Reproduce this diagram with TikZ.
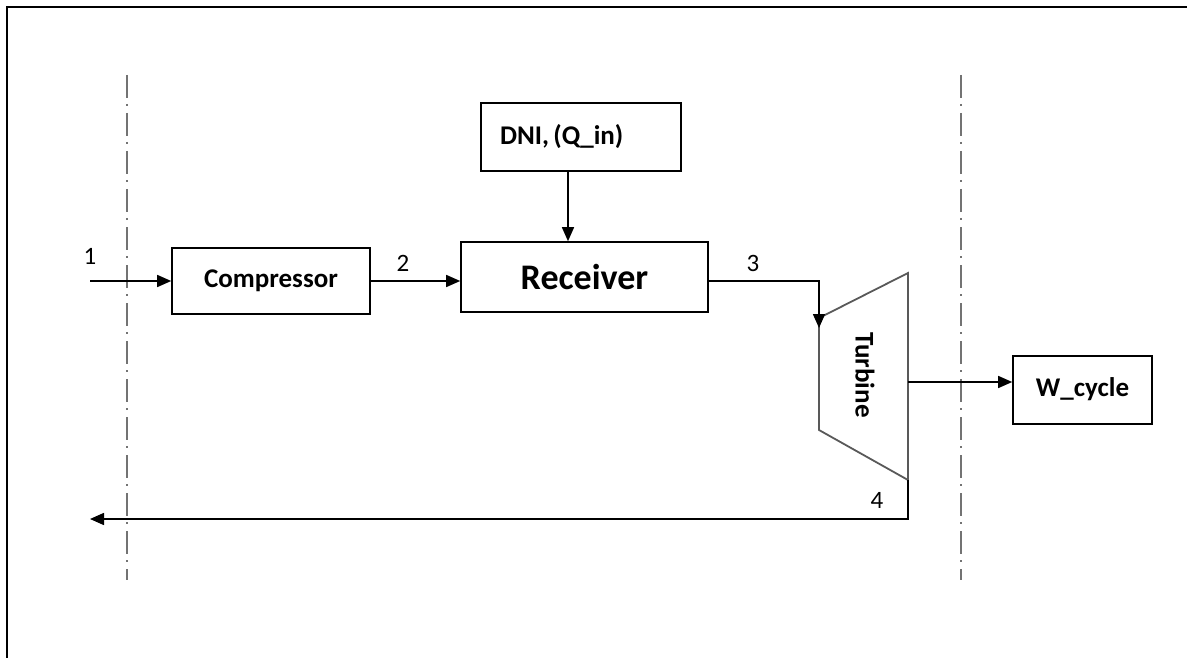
\documentclass[tikz,border=0pt]{standalone}
\usepackage{fontspec}
\setmainfont{Carlito}
\usepackage{tikz}
\usetikzlibrary{arrows.meta}

\begin{document}
\begin{tikzpicture}[
			x=1pt, y=-1pt,
			line cap=butt,
			line join=miter,
			blk/.style={draw, line width=1.6pt, inner sep=0pt, anchor=center,
				font=\bfseries\fontsize{27}{32}\selectfont},
			num/.style={font=\fontsize{25}{28}\selectfont, inner sep=0pt},
			arr/.style={line width=1.5pt, -{Triangle[length=14pt,width=12pt]}},
			bound/.style={draw=black!55, line width=2.6pt,
				dash pattern=on 23pt off 6pt on 2pt off 7pt}
			]
			\useasboundingbox (0,0) rectangle (1187,658);
			% outer frame
			\draw[line width=2pt] (6.5,658) -- (6.5,7.5) -- (1187,7.5);
			
			% system boundary
			\draw[bound] (127,75) -- (127,580);
			\draw[bound] (961,75) -- (961,580);
			
			\node[blk, minimum width=198, minimum height=66] (comp) at (271,281) {Compressor};
			\node[blk, minimum width=247, minimum height=70,
			font=\bfseries\fontsize{36}{42}\selectfont] (recv) at (584.5,277) {Receiver};
			\node[blk, minimum width=200, minimum height=68, text width=162,
			align=left, inner xsep=19pt] (dni) at (581,137) {\raisebox{5pt}{DNI,\,(Q\_in)}};
			\node[blk, minimum width=139, minimum height=68] (wcyc) at (1082.5,390) {\raisebox{6pt}{W\_cycle}};
			
			% turbine
			\coordinate (t-tl) at (819,318);
			\coordinate (t-tr) at (908,273);
			\coordinate (t-br) at (908,480);
			\coordinate (t-bl) at (819,430);
			\draw[black!65, line width=1.8pt] (t-tl) -- (t-tr) -- (t-br) -- (t-bl) -- cycle;
			\node[font=\bfseries\fontsize{27}{32}\selectfont, rotate=-90] (turb) at (865,375) {Turbine};
			
			\coordinate (in1) at (90,281);
			\coordinate (t-in) at (819,328);
			\coordinate (t-out) at (908,382);
			\coordinate (out4) at (90,519);
			
			\draw[arr] (in1) -- (comp.west);
			\draw[arr] (comp.east) -- (recv.west |- comp.east);
			\draw[arr] ([xshift=-13pt]dni.south) -- ([xshift=-13pt]dni.south |- recv.north);
			\draw[arr] (recv.east |- comp.east) -| (t-in);
			\draw[arr] (t-out) -- (wcyc.west |- t-out);
			\draw[arr] (t-br) |- (out4);
			
			\node[num] (lbl1) at (90,256) {1};
			\node[num] (lbl2) at (403,263) {2};
			\node[num] (lbl3) at (753,263) {3};
			\node[num] (lbl4) at (877,500) {4};
		\end{tikzpicture}
\end{document}
